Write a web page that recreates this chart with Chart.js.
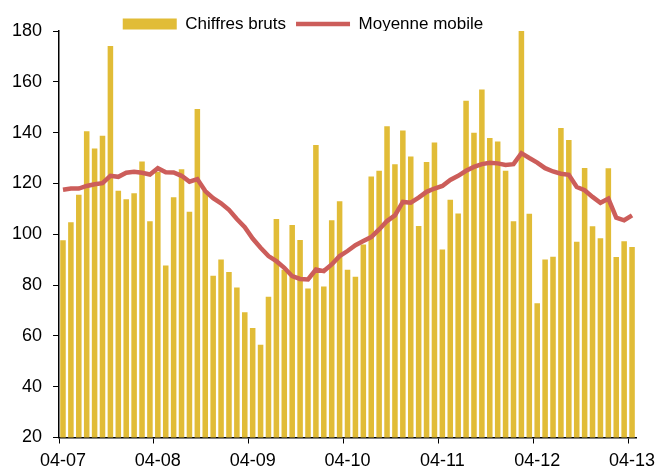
<!DOCTYPE html>
<html>
<head>
<meta charset="utf-8">
<script src="https://cdn.jsdelivr.net/npm/chart.js@4"></script>
<style>
  html, body { margin: 0; padding: 0; background: #fff; }
  #wrap { position: relative; width: 657px; height: 467px; }
</style>
</head>
<body>
<div id="wrap"><canvas id="chart"></canvas></div>
<script>
// months Apr 2007 .. Apr 2013, label shown every April
const months = [
  '04-07','05-07','06-07','07-07','08-07','09-07','10-07','11-07','12-07','01-08','02-08','03-08',
  '04-08','05-08','06-08','07-08','08-08','09-08','10-08','11-08','12-08','01-09','02-09','03-09',
  '04-09','05-09','06-09','07-09','08-09','09-09','10-09','11-09','12-09','01-10','02-10','03-10',
  '04-10','05-10','06-10','07-10','08-10','09-10','10-10','11-10','12-10','01-11','02-11','03-11',
  '04-11','05-11','06-11','07-11','08-11','09-11','10-11','11-11','12-11','01-12','02-12','03-12',
  '04-12','05-12','06-12','07-12','08-12','09-12','10-12','11-12','12-12','01-13','02-13','03-13',
  '04-13'
];
const tickLabels = ['04-07', '04-08', '04-09', '04-10', '04-11', '04-12', '04-13'];

const rawFigures = [
  97.6, 104.7, 115.5, 140.5, 133.8, 138.8, 174.1, 117.1, 113.8, 116.1, 128.6, 105.1,
  124.6, 87.7, 114.6, 125.6, 108.9, 149.3, 117, 83.7, 90.1, 85.1, 79, 69.3,
  63.1, 56.5, 75.4, 106, 86, 103.6, 97.7, 78.6, 135.1, 79.4, 105.5, 113,
  86, 83.3, 96, 122.7, 125, 142.5, 127.6, 140.8, 130.6, 103.2, 128.4, 136.1,
  94, 113.6, 108.2, 152.5, 140, 157, 137.9, 136.5, 125, 105.1, 182, 108.1,
  72.8, 90.1, 91.1, 141.8, 137.1, 97, 126.1, 103.1, 98.4, 126, 91, 97.2,
  95
];
const movingAverage = [
  117.5, 118, 118, 119, 119.7, 120.1, 123, 122.6, 124.2, 124.6, 124.2, 123.5,
  126, 124.4, 124.3, 123, 120.7, 121.7, 117, 114.2, 112.2, 109.6, 106, 102.8,
  98.3, 94.7, 91.4, 89.4, 86.8, 83.5, 82.4, 82.2, 86.1, 85.5, 88.1, 91.4,
  93.4, 95.7, 97.3, 98.9, 101.9, 105.2, 107.4, 112.7, 112.4, 114.4, 116.7, 118,
  119, 121.4, 123, 125, 126.5, 127.6, 128.1, 127.9, 127.3, 127.6, 131.9, 130,
  128.2, 126, 124.7, 123.8, 123.4, 118.6, 117.3, 114.7, 112.4, 114, 106.5, 105.5,
  107.4
];

const font = 'Arial, "Liberation Sans", sans-serif';
const yellow = '#E1BC37';
const red = '#CC5D5A';

// legend sits a little left of centre in the original
const legendShift = {
  id: 'legendShift',
  afterLayout(chart) {
    chart.legend.right -= 52;
  }
};

new Chart(document.getElementById('chart'), {
  data: {
    labels: months,
    datasets: [
      {
        type: 'line',
        label: 'Moyenne mobile',
        data: movingAverage,
        borderColor: red,
        backgroundColor: red,
        borderWidth: 4.5,
        pointRadius: 0,
        pointStyle: 'line',
        tension: 0,
        order: 0
      },
      {
        type: 'bar',
        label: 'Chiffres bruts',
        data: rawFigures,
        backgroundColor: yellow,
        borderWidth: 0,
        pointStyle: 'rect',
        barPercentage: 0.7,
        categoryPercentage: 1,
        order: 1
      }
    ]
  },
  plugins: [legendShift],
  options: {
    responsive: true,
    maintainAspectRatio: false,
    animation: false,
    layout: { padding: { top: 5.5, left: 1, right: 0, bottom: -11.5 } },
    plugins: {
      tooltip: { enabled: false },
      legend: {
        position: 'top',
        maxHeight: 25.5,
        reverse: true,
        labels: {
          usePointStyle: true,
          pointStyleWidth: 54,
          boxHeight: 11,
          padding: 10,
          color: '#000',
          font: { family: font, size: 17 }
        }
      }
    },
    scales: {
      x: {
        type: 'category',
        offset: true,
        // the last label may run to the canvas edge, as in the original
        afterFit: scale => { scale.paddingRight = 21; },
        grid: {
          offset: true,
          drawOnChartArea: false,
          tickLength: 6,
          color: ctx => (ctx.index % 12 === 0 && ctx.index < months.length) ? '#000' : 'rgba(0,0,0,0)'
        },
        border: { color: '#000', width: 1.5 },
        ticks: {
          autoSkip: false,
          maxRotation: 0,
          padding: 8.5,
          color: '#000',
          font: { family: font, size: 18, lineHeight: 1 },
          callback: (v, i) => tickLabels.includes(months[i]) ? months[i] : ''
        }
      },
      y: {
        min: 20,
        max: 180,
        grid: { drawOnChartArea: false, tickLength: 6, color: '#000' },
        border: { color: '#000', width: 1.5 },
        ticks: {
          stepSize: 20,
          padding: 11,
          color: '#000',
          font: { family: font, size: 18 }
        }
      }
    }
  }
});
</script>
</body>
</html>
